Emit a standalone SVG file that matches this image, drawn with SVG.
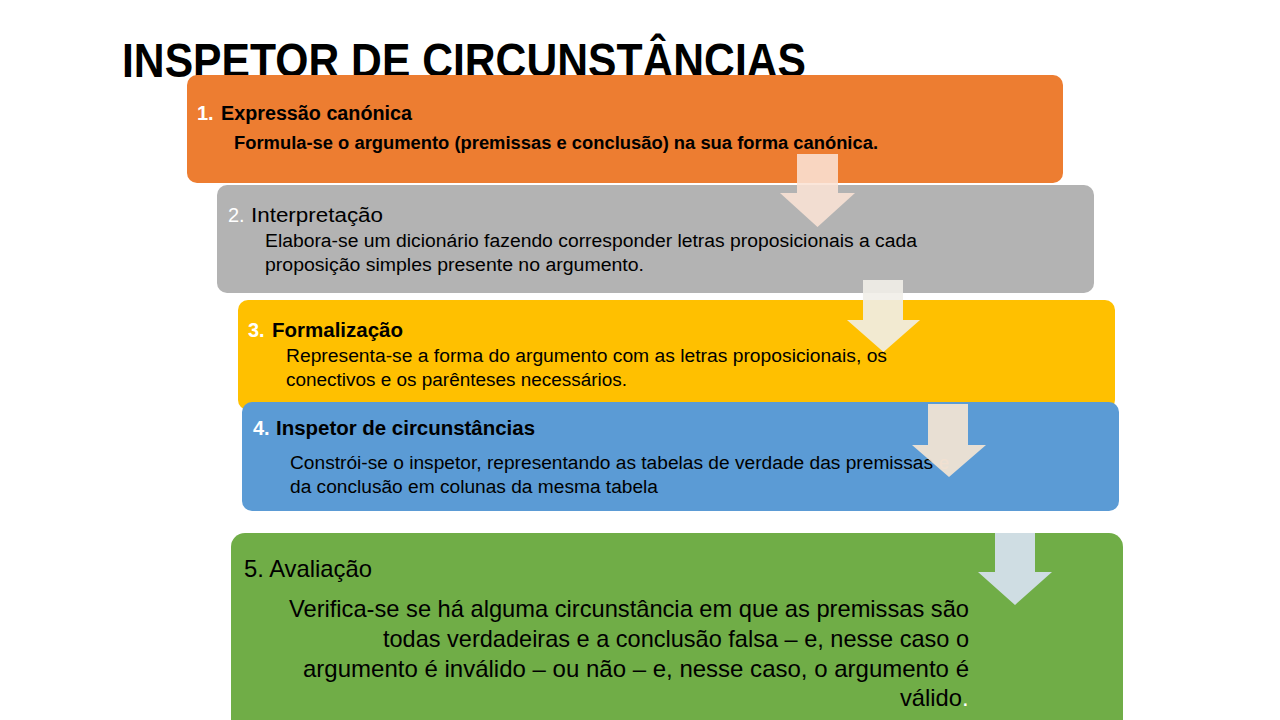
<svg xmlns="http://www.w3.org/2000/svg" width="1280" height="720" viewBox="0 0 1280 720">
<style>
text{font-family:"Liberation Sans",Arial,sans-serif;fill:#000}
.b{font-weight:bold}
.n{fill:#fff}
.h{font-size:20px}
.t{font-size:18px}
.g{font-size:24px}
</style>
<rect width="1280" height="720" fill="#fff"/>
<text x="122" y="77" class="b" font-size="49" textLength="684" lengthAdjust="spacingAndGlyphs">INSPETOR DE CIRCUNSTÂNCIAS</text>
<g id="node1">
<rect x="187" y="75" width="876" height="108" rx="10" fill="#ED7D31"/>
<text x="197" y="120" class="h b"><tspan class="n">1.</tspan></text>
<text x="221" y="120" class="h b" textLength="191" lengthAdjust="spacingAndGlyphs">Expressão canónica</text>
<text x="234" y="149" class="t b" textLength="644" lengthAdjust="spacingAndGlyphs">Formula-se o argumento (premissas e conclusão) na sua forma canónica.</text>
</g>
<g id="node2">
<rect x="217" y="185" width="877" height="108" rx="10" fill="#B3B3B3"/>
<text x="228" y="222" class="h"><tspan class="n">2.</tspan></text>
<text x="251" y="222" class="h" textLength="132" lengthAdjust="spacingAndGlyphs">Interpretação</text>
<text x="265" y="247" class="t" textLength="652" lengthAdjust="spacingAndGlyphs">Elabora-se um dicionário fazendo corresponder letras proposicionais a cada</text>
<text x="265" y="271" class="t" textLength="379" lengthAdjust="spacingAndGlyphs">proposição simples presente no argumento.</text>
</g>
<g id="node3">
<rect x="238" y="300" width="877" height="110" rx="10" fill="#FFC000"/>
<text x="248" y="337" class="h b"><tspan class="n">3.</tspan></text>
<text x="272" y="337" class="h b" textLength="131" lengthAdjust="spacingAndGlyphs">Formalização</text>
<text x="286" y="362" class="t" textLength="601" lengthAdjust="spacingAndGlyphs">Representa-se a forma do argumento com as letras proposicionais, os</text>
<text x="286" y="386" class="t" textLength="341" lengthAdjust="spacingAndGlyphs">conectivos e os parênteses necessários.</text>
</g>
<g id="node4">
<rect x="242" y="402" width="877" height="109" rx="10" fill="#5B9BD5"/>
<text x="253" y="435" class="h b"><tspan class="n">4.</tspan></text>
<text x="276" y="435" class="h b" textLength="259" lengthAdjust="spacingAndGlyphs">Inspetor de circunstâncias</text>
<text x="290" y="469" class="t" textLength="643" lengthAdjust="spacingAndGlyphs">Constrói-se o inspetor, representando as tabelas de verdade das premissas</text>
<text x="939" y="469" class="t" fill="#F4B4A6" style="fill:#F4B4A6">e</text>
<text x="290" y="493" class="t" textLength="368" lengthAdjust="spacingAndGlyphs">da conclusão em colunas da mesma tabela</text>
</g>
<g id="node5">
<rect x="231" y="533" width="892" height="210" rx="14" fill="#70AD47"/>
<text x="244" y="577" class="g" textLength="128" lengthAdjust="spacingAndGlyphs">5. Avaliação</text>
<text x="969" y="617" class="g" text-anchor="end" textLength="680" lengthAdjust="spacingAndGlyphs">Verifica-se se há alguma circunstância em que as premissas são</text>
<text x="969" y="647" class="g" text-anchor="end" textLength="586" lengthAdjust="spacingAndGlyphs">todas verdadeiras e a conclusão falsa – e, nesse caso o</text>
<text x="969" y="677" class="g" text-anchor="end" textLength="666" lengthAdjust="spacingAndGlyphs">argumento é inválido – ou não – e, nesse caso, o argumento é</text>
<text x="962" y="706" class="g" text-anchor="end" textLength="62" lengthAdjust="spacingAndGlyphs">válido</text>
<text x="962" y="706" class="g n">.</text>
</g>
<g id="connectors">
<path d="M797,154 H838 V193 H855 L817.5,227 L780,193 H797 Z" fill="#FBE2D5" fill-opacity="0.88"/>
<path d="M863,280 H903 V320 H920 L883.5,352 L847,320 H863 Z" fill="#F1EEE8" fill-opacity="0.9"/>
<path d="M928,404 H968 V445 H986 L949,477 L912,445 H928 Z" fill="#F0E3D3" fill-opacity="0.95"/>
<path d="M995,533 H1035 V572 H1052 L1015,605 L978,572 H995 Z" fill="#CFDDE3"/>
</g>
</svg>
